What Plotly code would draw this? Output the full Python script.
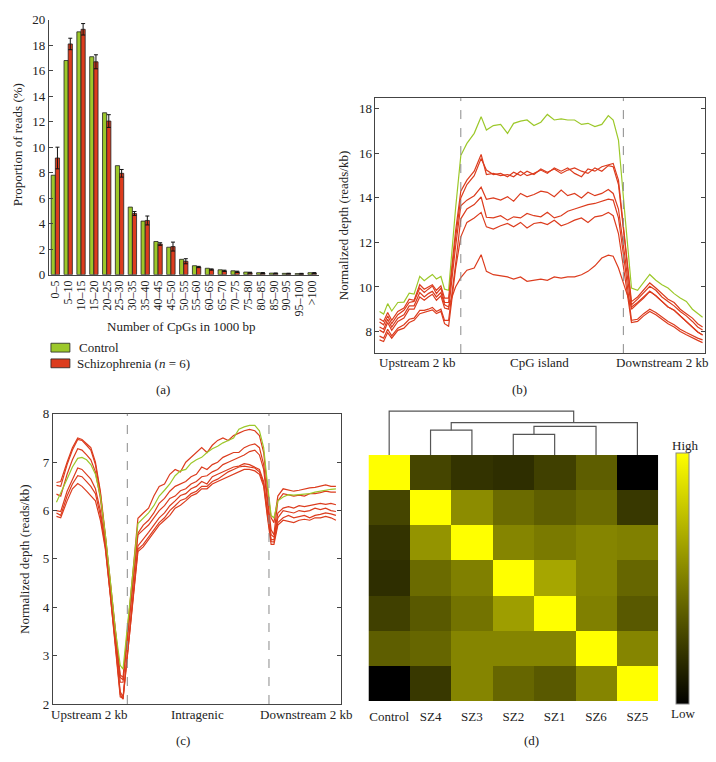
import plotly.graph_objects as go

W, H = 716, 762
def px(x): return x / W
def py(y): return 1 - y / H

FONT = "Liberation Serif"
GREEN = "#9cc82a"
RED = "#dc3c1e"
AX = "#444444"

# ---------------- Panel (a) data ----------------
CPG_BINS = ["0–5", "5–10", "10–15", "15–20", "20–25", "25–30", "30–35", "35–40", "40–45",
            "45–50", "50–55", "55–60", "60–65", "65–70", "70–75", "75–80", "80–85", "85–90",
            "90–95", "95–100", ">100"]
CONTROL_PCT = [7.8, 16.8, 19.05, 17.1, 12.7, 8.55, 5.3, 4.2, 2.6, 2.15, 1.2, 0.7, 0.5, 0.38,
               0.3, 0.2, 0.15, 0.12, 0.1, 0.08, 0.15]
SZ_PCT = [9.15, 18.1, 19.25, 16.7, 12.05, 7.95, 4.8, 4.25, 2.4, 2.2, 1.05, 0.6, 0.4, 0.3,
          0.22, 0.15, 0.12, 0.1, 0.08, 0.07, 0.12]
SZ_ERR = [0.85, 0.45, 0.45, 0.55, 0.5, 0.3, 0.15, 0.35, 0.1, 0.35, 0.2, 0.05, 0.05, 0.05,
          0.05, 0.04, 0.04, 0.03, 0.03, 0.03, 0.04]

# ---------------- Panel (b) data ----------------
X_B = [0, 1, 2, 3, 4.5, 6, 7.3, 8.5, 9.9, 11, 12, 13, 14, 15.1, 16, 17,
       18.7,
       20, 21.5, 23.3, 25, 26.3, 28, 29.8, 31.5, 33, 34.7, 36.3, 38, 39.7, 41.3, 43, 44.7,
       46.3, 48, 49.7, 51.3, 53, 54.7, 56.3, 57.5, 58.8,
       60.5,
       62, 63.5, 65, 66.5, 68, 69.5, 71, 72.5, 74, 75.5, 77, 78.3, 79.5]
B_CONTROL = [8.9, 8.78, 9.25, 8.92, 9.3, 9.32, 9.72, 9.68, 10.48, 10.28, 10.42, 10.56, 10.36, 10.47, 9.9, 9.85,
             13.5,
             15.9, 16.45, 16.9, 17.65, 17.05, 17.25, 17.3, 16.9, 17.35, 17.45, 17.5, 17.25, 17.4, 17.75, 17.5, 17.55,
             17.5, 17.5, 17.3, 17.35, 17.2, 17.3, 17.7, 17.5, 16.6,
             13.0,
             9.95, 9.85, 10.2, 10.56, 10.3, 10.1, 9.95, 9.7, 9.5, 9.35, 9.0, 8.8, 8.64]
B_SZ = [
    [8.57, 8.45, 8.85, 8.5, 8.9, 9.05, 9.45, 9.4, 10.1, 9.9, 10.0, 10.1, 9.85, 10.05, 9.5, 9.5,
     12.5,
     14.3, 14.8, 15.2, 15.95, 15.05, 15.1, 15.0, 15.05, 14.95, 15.2, 15.0, 15.1, 15.25, 15.1, 15.35, 15.2,
     15.35, 15.1, 14.95, 15.3, 15.2, 15.4, 15.5, 15.55, 14.8,
     12.0,
     9.34, 9.55, 9.85, 10.18, 9.95, 9.7, 9.45, 9.3, 9.0, 8.8, 8.6, 8.35, 8.2],
    [8.42, 8.3, 8.7, 8.35, 8.75, 8.95, 9.3, 9.35, 9.95, 9.75, 9.9, 10.04, 9.7, 9.95, 9.3, 9.3,
     12.2,
     14.0, 14.6, 15.0, 15.77, 15.25, 15.05, 15.1, 14.95, 15.15, 15.0, 15.2, 15.05, 15.3, 15.15, 15.3, 15.1,
     15.25, 15.35, 15.2, 15.1, 15.35, 15.2, 15.45, 15.4, 14.6,
     11.8,
     9.2, 9.45, 9.75, 10.03, 9.85, 9.55, 9.35, 9.15, 8.9, 8.7, 8.45, 8.2, 8.06],
    [8.06, 7.95, 8.4, 8.05, 8.45, 8.6, 9.0, 9.0, 9.55, 9.4, 9.55, 9.67, 9.4, 9.6, 9.05, 9.0,
     11.8,
     13.65, 13.9, 14.1, 14.48, 13.94, 14.0, 13.9, 14.05, 13.85, 14.2, 14.05, 14.15, 14.3, 14.25, 14.05, 14.35,
     14.1, 14.2, 14.0, 14.25, 14.1, 14.2, 14.38, 14.2, 13.5,
     11.2,
     9.0, 9.25, 9.5, 9.8, 9.6, 9.35, 9.1, 8.95, 8.7, 8.45, 8.2, 7.98, 7.84],
    [7.79, 7.7, 8.1, 7.8, 8.15, 8.3, 8.55, 8.6, 8.95, 8.95, 9.0, 9.08, 8.9, 9.0, 8.5, 8.5,
     11.0,
     13.06, 13.5, 13.7, 14.04, 13.13, 13.1, 13.2, 13.0, 13.15, 13.1, 13.3, 13.2, 13.15, 13.35, 13.1, 13.2,
     13.4, 13.5, 13.6, 13.7, 13.75, 13.85, 13.94, 13.9, 13.1,
     10.8,
     8.5, 8.55, 8.8, 9.0, 8.85, 8.65, 8.45, 8.3, 8.1, 7.95, 7.8, 7.7, 7.62],
    [7.62, 7.55, 7.95, 7.7, 8.05, 8.15, 8.4, 8.5, 8.8, 8.85, 8.9, 8.97, 8.8, 8.9, 8.35, 8.23,
     10.8,
     12.25, 12.9, 13.1, 13.35, 12.7, 12.6, 12.75, 12.85, 12.7, 12.9, 12.65, 12.85, 12.9, 12.8, 13.0, 12.75,
     12.85, 13.0, 13.1, 12.9, 13.15, 13.2, 13.35, 13.2, 12.4,
     10.3,
     8.4, 8.45, 8.7, 8.9, 8.75, 8.55, 8.35, 8.2, 8.0, 7.85, 7.7, 7.6, 7.5],
    [8.2, 8.1, 8.55, 8.2, 8.6, 8.75, 9.15, 9.15, 9.75, 9.55, 9.7, 9.8, 9.55, 9.75, 9.2, 9.1,
     10.0,
     10.42, 10.75, 10.85, 11.45, 10.7, 10.55, 10.5, 10.45, 10.35, 10.45, 10.25, 10.3, 10.35, 10.3, 10.45, 10.4,
     10.45, 10.45, 10.55, 10.7, 10.95, 11.3, 11.43, 11.38, 10.85,
     9.9,
     9.1, 9.3, 9.55, 9.8, 9.6, 9.35, 9.1, 8.95, 8.7, 8.45, 8.2, 7.98, 7.84],
]
B_REGIONS = ["Upstream 2 kb", "CpG island", "Downstream 2 kb"]

# ---------------- Panel (c) data ----------------
X_C = [0, 1.2, 3, 4.5, 6, 7.2, 8.5, 9.7, 11, 12.4, 13.8, 15.2, 16.6, 18, 18.8,
       23, 24.5, 26, 27.5, 29, 30.5, 32, 33.5, 35, 36.5, 38, 39.5, 41, 42.5, 44, 45.5, 47, 48.5,
       50, 51.5, 53, 54.5, 56, 57.3, 58.5, 59.5,
       60.6, 61.4, 62.5, 64, 65.5, 67, 68.5, 70, 71.5, 73, 74.5, 76, 77.5, 78.9]
C_CONTROL = [6.17, 6.35, 6.65, 6.9, 7.08, 7.1, 7.05, 6.95, 6.75, 6.3, 5.5, 4.55, 3.55, 2.8, 2.72,
             5.73, 5.85, 5.95, 6.1, 6.3, 6.42, 6.55, 6.72, 6.82, 6.85, 6.98, 7.05, 7.1, 7.2, 7.28, 7.33,
             7.4, 7.45, 7.5, 7.68, 7.73, 7.76, 7.76, 7.65, 7.3, 6.6,
             5.9, 5.85, 6.2, 6.28, 6.33, 6.32, 6.33, 6.35, 6.35, 6.38, 6.4, 6.43, 6.44, 6.45]
C_SZ = [
    [6.58, 6.6, 7.0, 7.3, 7.5, 7.47, 7.38, 7.3, 7.0, 6.4, 5.5, 4.5, 3.45, 2.6, 2.55,
     5.84, 5.95, 6.05, 6.3, 6.5, 6.55, 6.75, 6.85, 6.8, 7.0, 7.1, 7.2, 7.3, 7.2, 7.35, 7.45,
     7.5, 7.45, 7.55, 7.6, 7.65, 7.68, 7.65, 7.55, 7.2, 6.5,
     5.85, 5.75, 6.3, 6.45, 6.42, 6.4, 6.42, 6.45, 6.47, 6.48, 6.5, 6.53, 6.5, 6.5],
    [6.52, 6.5, 6.95, 7.25, 7.47, 7.45, 7.35, 7.25, 6.95, 6.35, 5.45, 4.45, 3.4, 2.55, 2.5,
     5.53, 5.7, 5.8, 5.95, 6.15, 6.25, 6.4, 6.5, 6.55, 6.6, 6.7, 6.75, 6.9, 6.85, 6.95, 7.0,
     7.1, 7.15, 7.2, 7.2, 7.3, 7.35, 7.38, 7.3, 6.95, 6.3,
     5.6, 5.5, 6.2, 6.35, 6.33, 6.3, 6.32, 6.3, 6.35, 6.35, 6.37, 6.4, 6.38, 6.38],
    [6.34, 6.3, 6.75, 7.05, 7.28, 7.25, 7.15, 7.05, 6.8, 6.25, 5.4, 4.4, 3.35, 2.45, 2.45,
     5.5, 5.6, 5.7, 5.85, 6.0, 6.1, 6.25, 6.3, 6.41, 6.45, 6.55, 6.6, 6.7, 6.72, 6.8, 6.85,
     6.95, 7.0, 7.05, 7.1, 7.15, 7.22, 7.25, 7.15, 6.85, 6.2,
     5.5, 5.45, 5.95, 6.05, 6.08, 6.05, 6.1, 6.08, 6.1, 6.12, 6.15, 6.13, 6.15, 6.12],
    [6.0, 5.98, 6.4, 6.65, 6.88, 6.85, 6.75, 6.65, 6.45, 6.0, 5.3, 4.35, 3.3, 2.25, 2.15,
     5.27, 5.4, 5.55, 5.7, 5.85, 5.95, 6.1, 6.2, 6.31, 6.35, 6.45, 6.5, 6.6, 6.55, 6.7, 6.75,
     6.8, 6.85, 6.9, 6.92, 6.97, 6.95, 6.9, 6.85, 6.6, 6.0,
     5.4, 5.4, 5.85, 6.0, 5.98, 5.95, 6.0, 5.98, 6.0, 6.05, 6.02, 6.05, 6.0, 5.98],
    [5.95, 5.9, 6.3, 6.55, 6.72, 6.7, 6.6, 6.5, 6.35, 5.9, 5.25, 4.3, 3.25, 2.2, 2.1,
     5.2, 5.3, 5.45, 5.6, 5.75, 5.85, 6.0, 6.1, 6.21, 6.25, 6.35, 6.4, 6.5, 6.5, 6.6, 6.65,
     6.72, 6.8, 6.85, 6.9, 6.92, 6.9, 6.88, 6.8, 6.55, 5.95,
     5.36, 5.35, 5.75, 5.85, 5.9, 5.85, 5.88, 5.9, 5.85, 5.9, 5.92, 5.95, 5.93, 5.9],
    [5.88, 5.85, 6.2, 6.45, 6.56, 6.5, 6.4, 6.3, 6.2, 5.8, 5.2, 4.25, 3.2, 2.15, 2.12,
     5.15, 5.25, 5.4, 5.55, 5.7, 5.8, 5.9, 6.05, 6.11, 6.2, 6.3, 6.35, 6.45, 6.45, 6.55, 6.6,
     6.65, 6.7, 6.75, 6.8, 6.85, 6.85, 6.82, 6.75, 6.5, 5.9,
     5.3, 5.3, 5.7, 5.8, 5.78, 5.75, 5.8, 5.82, 5.8, 5.85, 5.85, 5.88, 5.85, 5.8],
]
C_REGIONS = ["Upstream 2 kb", "Intragenic", "Downstream 2 kb"]

# ---------------- Panel (d) data ----------------
SAMPLES = ["Control", "SZ4", "SZ3", "SZ2", "SZ1", "SZ6", "SZ5"]
CORR = [
    [1.00, 0.27, 0.20, 0.18, 0.25, 0.37, 0.00],
    [0.27, 1.00, 0.55, 0.42, 0.37, 0.42, 0.22],
    [0.20, 0.58, 1.00, 0.52, 0.48, 0.52, 0.50],
    [0.18, 0.42, 0.50, 1.00, 0.65, 0.52, 0.40],
    [0.25, 0.35, 0.45, 0.62, 1.00, 0.50, 0.35],
    [0.37, 0.40, 0.52, 0.52, 0.52, 1.00, 0.52],
    [0.00, 0.22, 0.52, 0.40, 0.35, 0.52, 1.00],
]
# dendrogram links: (left x, right x, left bottom h, right bottom h, merge h)
DENDRO = [
    (1, 2, 0, 0, 25.3),
    (3, 4, 0, 0, 21),
    (3.5, 5, 21, 0, 29.3),
    (1.5, 6, 25.3, 0, 33),
    (0, 4.46, 0, 33, 44.7),
]

fig = go.Figure()

# (a) bars
fig.add_bar(x=CPG_BINS, y=CONTROL_PCT, marker=dict(color=GREEN, line=dict(color="#222", width=0.8)),
            xaxis="x", yaxis="y", showlegend=False)
fig.add_bar(x=CPG_BINS, y=SZ_PCT, marker=dict(color=RED, line=dict(color="#222", width=0.8)),
            error_y=dict(type="data", array=SZ_ERR, color="#111", thickness=1, width=2),
            xaxis="x", yaxis="y", showlegend=False)

# (b) lines
fig.add_scatter(x=X_B, y=B_CONTROL, mode="lines", line=dict(color=GREEN, width=1.2),
                xaxis="x2", yaxis="y2", showlegend=False)
for s in B_SZ:
    fig.add_scatter(x=X_B, y=s, mode="lines", line=dict(color=RED, width=1.2),
                    xaxis="x2", yaxis="y2", showlegend=False)

# (c) lines
for s in C_SZ:
    fig.add_scatter(x=X_C, y=s, mode="lines", line=dict(color=RED, width=1.2),
                    xaxis="x3", yaxis="y3", showlegend=False)
fig.add_scatter(x=X_C, y=C_CONTROL, mode="lines", line=dict(color=GREEN, width=1.2),
                xaxis="x3", yaxis="y3", showlegend=False)

# (d) heatmap
fig.add_heatmap(z=CORR, x=list(range(len(SAMPLES))), y=list(range(len(SAMPLES))),
                colorscale=[[0, "#000000"], [1, "#ffff00"]], zmin=0, zmax=1,
                xaxis="x4", yaxis="y4",
                colorbar=dict(x=px(676), xanchor="left", y=py(582.5), yanchor="middle",
                              thickness=13, thicknessmode="pixels", len=251, lenmode="pixels",
                              showticklabels=False, ticks="", outlinecolor="#888", outlinewidth=1,
                              xpad=0, ypad=0))
dx, dy = [], []
for (xl, xr, hl, hr, hm) in DENDRO:
    dx += [xl, xl, xr, xr, None]
    dy += [hl, hm, hm, hr, None]
fig.add_scatter(x=dx, y=dy, mode="lines", line=dict(color="#555", width=1.2),
                xaxis="x4", yaxis="y5", showlegend=False, hoverinfo="skip")

tickfont = dict(family=FONT, size=13, color="#222")
shapes = []
annotations = []

def add_text(text, x, y, size=13, angle=0, xanchor="center"):
    annotations.append(dict(text=text, x=px(x), y=py(y), xref="paper", yref="paper",
                            showarrow=False, textangle=angle, xanchor=xanchor, yanchor="middle",
                            font=dict(family=FONT, size=size, color="#222")))

# dashed region borders
for xa in ("x2", "x3"):
    for xv in (20, 60):
        shapes.append(dict(type="line", xref=xa, yref=xa.replace("x", "y") + " domain",
                           x0=xv, x1=xv, y0=0, y1=1,
                           line=dict(color="#8a8a8a", width=1, dash="dash")))

# legend for (a)
shapes.append(dict(type="rect", xref="paper", yref="paper", x0=px(50), x1=px(69), y0=py(352), y1=py(343),
                   fillcolor=GREEN, line=dict(color="#222", width=0.8)))
shapes.append(dict(type="rect", xref="paper", yref="paper", x0=px(50), x1=px(69), y0=py(368), y1=py(359),
                   fillcolor=RED, line=dict(color="#222", width=0.8)))
add_text("Control", 76, 347.5, xanchor="left")
add_text("Schizophrenia (<i>n</i> = 6)", 74, 364, xanchor="left")

# axis titles
add_text("Proportion of reads (%)", 16, 140, angle=-90)
add_text("Number of CpGs in 1000 bp", 180, 326)
add_text("Normalized depth (reads/kb)", 343, 223, angle=-90)
add_text("Normalized depth (reads/kb)", 24, 563, angle=-90)

# region labels
for t, xx in zip(B_REGIONS, [417, 539, 662]):
    add_text(t, xx, 363)
for t, xx in zip(C_REGIONS, [89, 197, 305]):
    add_text(t, xx, 722)

# panel letters
add_text("(a)", 162, 390)
add_text("(b)", 519, 390)
add_text("(c)", 182, 748)
add_text("(d)", 531, 748)

# colorbar labels
add_text("High", 685, 447)
add_text("Low", 683, 721)

box = dict(showline=True, linecolor=AX, linewidth=1, mirror="ticks", showgrid=False, zeroline=False)

fig.update_layout(
    width=W, height=H, margin=dict(l=0, r=0, t=0, b=0),
    paper_bgcolor="white", plot_bgcolor="white",
    barmode="group", bargap=0.35, bargroupgap=0,
    font=dict(family=FONT, size=13, color="#222"),
    showlegend=False,
    xaxis=dict(domain=[px(48), px(318)], anchor="y", range=[-0.5, 20.5], type="category",
               tickmode="array", tickvals=CPG_BINS, ticktext=CPG_BINS,
               showline=True, linecolor=AX, linewidth=1, ticks="", tickangle=-90,
               tickfont=dict(family=FONT, size=12, color="#222"), showgrid=False),
    yaxis=dict(domain=[py(273), py(13)], anchor="x", range=[0, 20], dtick=2,
               showline=True, linecolor=AX, linewidth=1, ticks="inside", ticklen=4, tickcolor=AX,
               tickfont=tickfont, showgrid=False, zeroline=False),
    xaxis2=dict(domain=[px(375), px(705)], anchor="y2", range=[-1, 80.1],
                showticklabels=False, ticks="", **box),
    yaxis2=dict(domain=[py(353), py(93)], anchor="x2", range=[7.03, 18.48], tickvals=[8, 10, 12, 14, 16, 18],
                ticks="inside", ticklen=4, tickcolor=AX, tickfont=tickfont, **box),
    xaxis3=dict(domain=[px(52), px(340)], anchor="y3", range=[-1, 80.2],
                showticklabels=False, ticks="", **box),
    yaxis3=dict(domain=[py(711), py(415)], anchor="x3", range=[2, 8], dtick=1,
                ticks="inside", ticklen=4, tickcolor=AX, tickfont=tickfont, **box),
    xaxis4=dict(domain=[px(368), px(658)], anchor="y4", range=[-0.5, 6.5],
                tickvals=list(range(len(SAMPLES))), ticktext=SAMPLES, ticks="",
                ticklabelstandoff=6,
                showline=False, showgrid=False, zeroline=False, tickfont=tickfont),
    yaxis4=dict(domain=[py(708), py(457)], anchor="x4", range=[6.5, -0.5],
                showticklabels=False, ticks="", showline=False, showgrid=False, zeroline=False),
    yaxis5=dict(domain=[py(457), py(407)], anchor="x4", range=[0, 50],
                visible=False, showgrid=False, zeroline=False),
    shapes=shapes, annotations=annotations,
)

fig.write_html("out.html", config={"displayModeBar": False},
               post_script="document.body.style.margin='0';document.body.style.overflow='hidden';")
